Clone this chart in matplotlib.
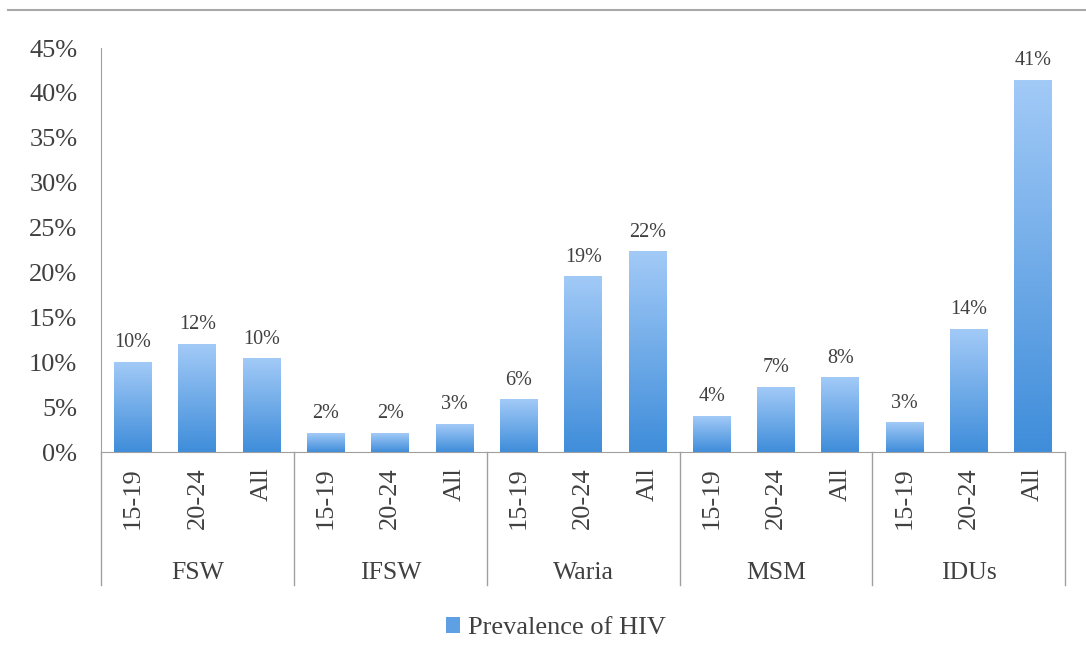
import numpy as np
import matplotlib.pyplot as plt
from matplotlib.patches import Patch
from matplotlib.lines import Line2D
from matplotlib.colors import LinearSegmentedColormap

# data
groups = ["FSW", "IFSW", "Waria", "MSM", "IDUs"]
ages = ["15-19", "20-24", "All"]
prevalence = [0.100, 0.120, 0.104,
              0.021, 0.021, 0.031,
              0.058, 0.195, 0.223,
              0.040, 0.072, 0.083,
              0.033, 0.137, 0.414]
value_labels = ["10%", "12%", "10%", "2%", "2%", "3%", "6%", "19%", "22%",
                "4%", "7%", "8%", "3%", "14%", "41%"]
yticks = [0, 0.05, 0.10, 0.15, 0.20, 0.25, 0.30, 0.35, 0.40, 0.45]

plt.rcParams['font.family'] = ['Liberation Serif', 'DejaVu Serif']
text_color = '#404040'
line_color = '#a0a0a0'

fig = plt.figure(figsize=(10.86, 6.66), dpi=100)
ax = fig.add_axes([0.093, 0.3213, 0.888, 0.6066])

x = np.arange(len(prevalence))
bars = ax.bar(x, prevalence, width=0.59, color='none', edgecolor='none')

# vertical gradient fill, light on top, darker at the base
cmap = LinearSegmentedColormap.from_list('blues', ['#3f8dda', '#a2caf7'])
grad = np.linspace(0, 1, 256).reshape(-1, 1)
for b in bars:
    x0, w, h = b.get_x(), b.get_width(), b.get_height()
    ax.imshow(grad, extent=[x0, x0 + w, 0, h], origin='lower', cmap=cmap,
              aspect='auto', zorder=2)

for xi, v, lab in zip(x, prevalence, value_labels):
    ax.text(xi, v + 0.011, lab, ha='center', va='bottom', fontsize=14.5,
            color=text_color)

ax.set_xlim(-0.5, len(prevalence) - 0.5)
ax.set_ylim(0, 0.45)
ax.set_yticks(yticks)
ax.set_yticklabels([f"{int(round(t * 100))}%" for t in yticks])
ax.tick_params(axis='y', length=0, pad=17, labelsize=19, labelcolor=text_color)

ax.set_xticks(x)
ax.set_xticklabels(ages * len(groups), rotation=90, va='top', ha='center')
ax.tick_params(axis='x', length=0, pad=11, labelsize=19, labelcolor=text_color)

for s in ['top', 'right']:
    ax.spines[s].set_visible(False)
ax.spines['left'].set_color(line_color)
ax.spines['bottom'].set_color(line_color)

# group separators and names under the axis
trans = ax.get_xaxis_transform()
for i in range(len(groups) + 1):
    xb = i * len(ages) - 0.5
    ax.plot([xb, xb], [0, -0.33], transform=trans, color=line_color,
            lw=1, clip_on=False)
for i, g in enumerate(groups):
    ax.text(i * len(ages) + 1, -0.30, g, transform=trans, ha='center',
            va='center', fontsize=18.5, color=text_color)

# thin border line at top of the figure
fig.add_artist(Line2D([0.007, 1.0], [0.985, 0.985], color='#a8a8a8', lw=1.5))

handle = Patch(facecolor='#5f9fe3', edgecolor='none')
fig.legend([handle], ["Prevalence of HIV"], loc='center',
           bbox_to_anchor=(0.512, 0.057), frameon=False, fontsize=19,
           handlelength=0.55, handleheight=0.55, handletextpad=0.3,
           labelcolor=text_color)

fig.savefig('out.png', dpi=100)
